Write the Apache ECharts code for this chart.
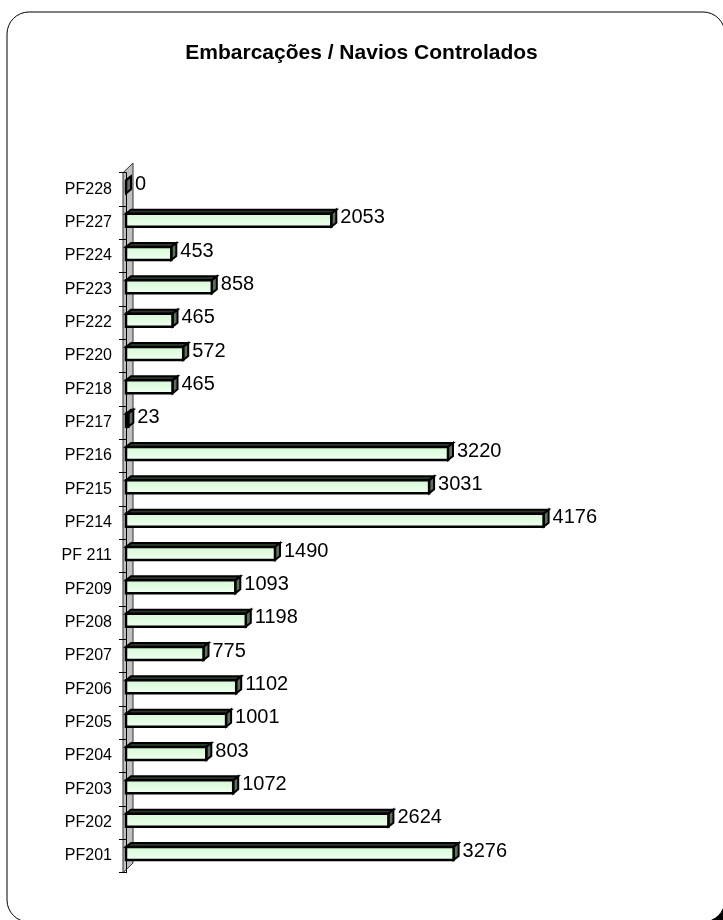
<!DOCTYPE html>
<html>
<head>
<meta charset="utf-8">
<script src="https://cdn.jsdelivr.net/npm/echarts@6/dist/echarts.min.js"></script>
<style>
html,body{margin:0;padding:0;background:#fff;}
#chart{width:723px;height:920px;}
</style>
</head>
<body>
<div id="chart"></div>
<script>
// Categories listed bottom to top (as the category axis runs upward)
var categories = ['PF201','PF202','PF203','PF204','PF205','PF206','PF207','PF208','PF209','PF 211',
                  'PF214','PF215','PF216','PF217','PF218','PF220','PF222','PF223','PF224','PF227','PF228'];
var values = [3276, 2624, 1072, 803, 1001, 1102, 775, 1198, 1093, 1490,
              4176, 3031, 3220, 23, 465, 572, 465, 858, 453, 2053, 0];
var titleText = 'Embarcações / Navios Controlados';

var FONT = '"Liberation Sans", Arial, Helvetica, sans-serif';
var GRID_LEFT = 126, GRID_TOP = 172.7, GRID_H = 700, GRID_W = 500;
var DX = 5, DY = 4; // 3D depth

var chart = echarts.init(document.getElementById('chart'), null, {renderer: 'canvas'});

function renderBar(params, api) {
  var idx = api.value(0);
  var val = api.value(1);
  var p0 = api.coord([0, idx]);
  var p1 = api.coord([val, idx]);
  var cy = p0[1];
  var x0 = p0[0], x1 = p1[0];
  var yt = cy - 9, yb = cy + 4;
  var grad = new echarts.graphic.LinearGradient(0, 0, 0, 1, [
    {offset: 0, color: '#d0f8d0'}, {offset: 1, color: '#f6fff6'}
  ]);
  return {
    type: 'group',
    children: [
      { type: 'polygon', shape: {points: [[x0, yt], [x0 + DX, yt - DY], [x1 + DX, yt - DY], [x1, yt]]},
        style: {fill: '#2c382c', stroke: '#000', lineWidth: 2} },
      { type: 'polygon', shape: {points: [[x1, yt], [x1 + DX, yt - DY], [x1 + DX, yb - DY], [x1, yb]]},
        style: {fill: '#5f6e5f', stroke: '#000', lineWidth: 2} },
      { type: 'rect', shape: {x: x0, y: yt, width: x1 - x0, height: yb - yt},
        style: {fill: grad, stroke: '#000', lineWidth: 2.5} },
      { type: 'text', x: x1 + DX + 4, y: cy - 5,
        style: {text: String(val), fill: '#000', font: '20px ' + FONT, align: 'left', verticalAlign: 'middle'} }
    ]
  };
}

var option = {
  animation: false,
  backgroundColor: '#fff',
  title: {
    text: titleText, left: 'center', top: 38,
    textStyle: {fontFamily: FONT, fontSize: 21, fontWeight: 'bold', color: '#000'}
  },
  grid: {left: GRID_LEFT, top: GRID_TOP, width: GRID_W, height: GRID_H, containLabel: false},
  xAxis: {type: 'value', min: 0, max: 5000, show: false},
  yAxis: {
    type: 'category', data: categories, offset: 3, z: 5,
    axisLine: {show: true, lineStyle: {color: '#000', width: 1}},
    axisTick: {show: true, inside: false, length: 7, lineStyle: {color: '#000'}},
    axisLabel: {margin: 11, color: '#000', fontFamily: FONT, fontSize: 16}
  },
  graphic: [
    { type: 'rect', z: -20, shape: {x: 698, y: 893, width: 25, height: 27},
      style: {fill: '#000'} },
    { type: 'rect', z: -10, shape: {x: 7, y: 12, width: 718, height: 910, r: 22},
      style: {fill: '#fff', stroke: '#000', lineWidth: 1} },
    { type: 'polygon', z: 0,
      shape: {points: [[GRID_LEFT - 3, GRID_TOP], [GRID_LEFT + 7, GRID_TOP - 9.7], [GRID_LEFT + 7, GRID_TOP + GRID_H - 9.7], [GRID_LEFT - 3, GRID_TOP + GRID_H]]},
      style: {fill: '#c0c0c0', stroke: '#333', lineWidth: 1} }
  ],
  series: [{
    type: 'custom',
    renderItem: renderBar,
    encode: {x: 1, y: 0},
    data: values.map(function (v, i) { return [i, v]; }),
    z: 10
  }]
};
chart.setOption(option);
</script>
</body>
</html>
